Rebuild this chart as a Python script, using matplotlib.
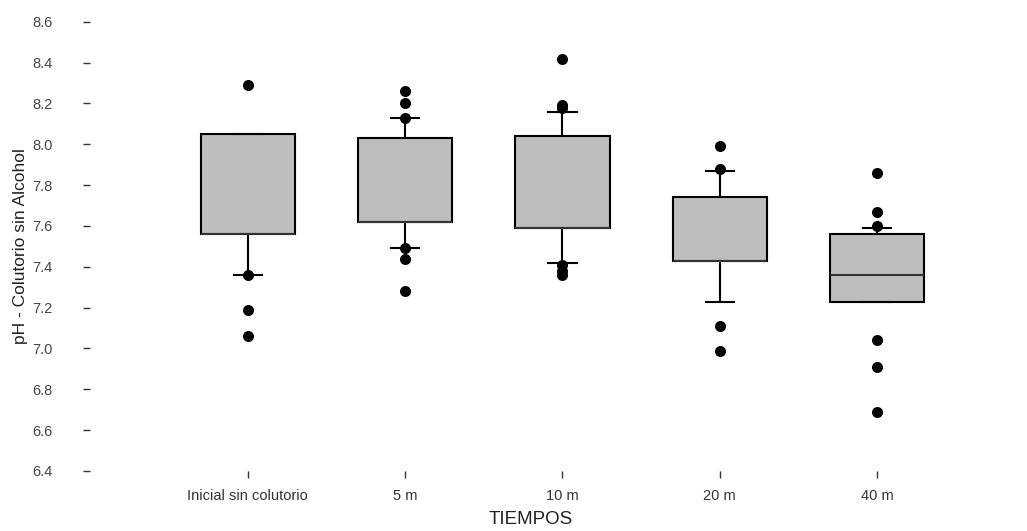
import numpy as np
import matplotlib.pyplot as plt

plt.rcParams['font.family'] = ['Liberation Sans', 'DejaVu Sans']

# categories and box statistics
tiempos = ["Inicial sin colutorio", "5 m", "10 m", "20 m", "40 m"]
q1 = [7.56, 7.62, 7.59, 7.43, 7.23]
mediana = [7.56, 7.62, 7.59, 7.43, 7.36]
q3 = [8.05, 8.03, 8.04, 7.74, 7.56]
bigote_inf = [7.36, 7.49, 7.42, 7.23, 7.23]
bigote_sup = [8.05, 8.13, 8.16, 7.87, 7.59]

# individual points plotted over the boxes
puntos = [
    [8.29, 7.36, 7.19, 7.06],
    [8.26, 8.20, 8.13, 7.49, 7.44, 7.28],
    [8.42, 8.19, 8.18, 7.41, 7.38, 7.36],
    [7.99, 7.88, 7.11, 6.99],
    [7.86, 7.67, 7.60, 7.04, 6.91, 6.69],
]

yticks = [6.4, 6.6, 6.8, 7.0, 7.2, 7.4, 7.6, 7.8, 8.0, 8.2, 8.4, 8.6]

fig = plt.figure(figsize=(10.27, 5.31), dpi=100)
ax = fig.add_axes([0.088, 0.113, 0.858, 0.846])

stats = []
for i in range(len(tiempos)):
    stats.append({'q1': q1[i], 'med': mediana[i], 'q3': q3[i],
                  'whislo': bigote_inf[i], 'whishi': bigote_sup[i], 'fliers': []})

pos = np.arange(1, len(tiempos) + 1)
ax.bxp(stats, positions=pos, widths=0.6, patch_artist=True, showfliers=False,
       capwidths=0.18,
       boxprops=dict(facecolor='#bebebe', edgecolor='black', linewidth=1.5),
       medianprops=dict(color='#333333', linewidth=1.5),
       whiskerprops=dict(color='black', linewidth=1.5),
       capprops=dict(color='black', linewidth=1.5))

for i, vals in enumerate(puntos):
    ax.scatter(np.full(len(vals), pos[i]), vals, s=48, color='black', zorder=5)

ax.set_xlim(0.0, 5.6)
ax.set_ylim(6.4, 8.6)
ax.set_xticks(pos)
ax.set_xticklabels(tiempos)
ax.set_yticks(yticks)
ax.set_yticklabels([f"{v:.1f}" for v in yticks])

for s in ax.spines.values():
    s.set_visible(False)

ax.tick_params(axis='y', length=5, width=1, color='#333333', labelsize=10.5,
               labelcolor='#444444', pad=22)
ax.tick_params(axis='x', length=5, width=1, color='#333333', labelsize=10.5,
               labelcolor='#333333', pad=8)

ax.set_xlabel("TIEMPOS", fontsize=13.5, color='#222222', labelpad=6)
ax.set_ylabel("pH - Colutorio sin Alcohol", fontsize=12.5, color='#222222', labelpad=3)

fig.savefig("out.png", dpi=100)
